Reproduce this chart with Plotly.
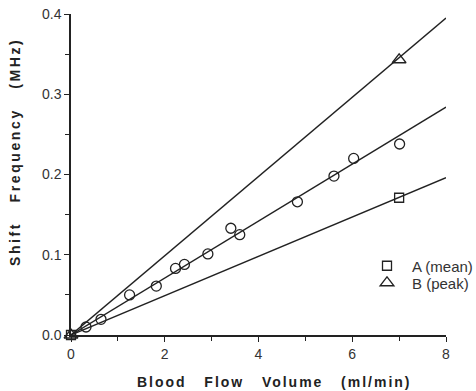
import plotly.graph_objects as go

# Data
circle_x = [0.32, 0.64, 1.25, 1.82, 2.23, 2.42, 2.92, 3.41, 3.60, 4.83, 5.61, 6.03, 7.01]
circle_y = [0.010, 0.0195, 0.050, 0.061, 0.083, 0.088, 0.101, 0.133, 0.125, 0.166, 0.198, 0.220, 0.238]

mean_x = [0, 7]
mean_y = [0.0, 0.171]
peak_x = [0, 7]
peak_y = [0.0, 0.343]

# Fitted regression lines (end points)
line_x = [0, 8]
line_peak = [0, 0.395]
line_circ = [0, 0.284]
line_mean = [0, 0.196]

x_ticks = [0, 2, 4, 6, 8]
y_ticks = [0.0, 0.1, 0.2, 0.3, 0.4]

FONT = "Liberation Sans, Arial, Helvetica, sans-serif"
INK = "#222222"

fig = go.Figure()
for ly in (line_peak, line_circ, line_mean):
    fig.add_trace(go.Scatter(x=line_x, y=ly, mode="lines",
                             line=dict(color=INK, width=1.4),
                             showlegend=False, hoverinfo="skip"))

fig.add_trace(go.Scatter(x=circle_x, y=circle_y, mode="markers", showlegend=False,
                         marker=dict(symbol="circle-open", size=10, color=INK,
                                     line=dict(width=1.3, color=INK)),
                         cliponaxis=False))
fig.add_trace(go.Scatter(x=mean_x, y=mean_y, mode="markers", name="A (mean)",
                         legend="legend",
                         marker=dict(symbol="square-open", size=9, color=INK,
                                     line=dict(width=1.3, color=INK)),
                         cliponaxis=False))
fig.add_trace(go.Scatter(x=peak_x, y=peak_y, mode="markers", name="B (peak)",
                         legend="legend2",
                         marker=dict(symbol="triangle-up-open", size=12, color=INK,
                                     line=dict(width=1.3, color=INK)),
                         cliponaxis=False))

axis_common = dict(showgrid=False, zeroline=False, showline=True,
                   linecolor=INK, linewidth=1.5, ticks="outside",
                   ticklen=5, tickwidth=1.2, tickcolor=INK,
                   tickfont=dict(family=FONT, size=14, color="#333333"),
                   mirror=False)

fig.update_xaxes(range=[0, 8], tickvals=x_ticks, ticktext=[str(v) for v in x_ticks],
                 minor=dict(dtick=1, ticks="outside", ticklen=4, tickcolor=INK, tickwidth=1),
                 **axis_common)
fig.update_yaxes(range=[0, 0.4], tickvals=y_ticks, ticktext=[f"{v:.1f}" for v in y_ticks],
                 minor=dict(dtick=0.05, ticks="outside", ticklen=4, tickcolor=INK, tickwidth=1),
                 **axis_common)

nb = "\u00a0"
fig.add_annotation(text=f"Blood{nb*3}Flow{nb*3}Volume{nb*3}(ml/min)",
                   xref="paper", yref="paper", x=0.5, y=0, yshift=-47,
                   xshift=16, showarrow=False, xanchor="center", yanchor="middle",
                   font=dict(family=FONT, size=14, color=INK, weight="bold"),
                   name="xtitle")
fig.add_annotation(text=f"Shift{nb*3}Frequency{nb*3}(MHz)",
                   xref="paper", yref="paper", x=0, y=0.5, xshift=-57, yshift=22,
                   textangle=-90, showarrow=False, xanchor="center", yanchor="middle",
                   font=dict(family=FONT, size=14, color=INK, weight="bold"),
                   name="ytitle")

leg_common = dict(xanchor="left", yanchor="middle", bgcolor="rgba(0,0,0,0)",
                  borderwidth=0, font=dict(family=FONT, size=15, color="#333333"),
                  itemsizing="trace", itemwidth=40)

fig.update_layout(
    width=476, height=391,
    margin=dict(l=71, r=30, t=14, b=56, autoexpand=False),
    paper_bgcolor="white", plot_bgcolor="white",
    showlegend=True,
    legend=dict(x=0.776, y=0.215, **leg_common),
    legend2=dict(x=0.776, y=0.162, **leg_common),
)

post = """
var anns = document.querySelectorAll('.annotation-text');
anns.forEach(function(e, i){
  e.style.letterSpacing = (i === 1) ? '2.6px' : '2px';
});
"""
fig.write_html("out.html", post_script=post)
